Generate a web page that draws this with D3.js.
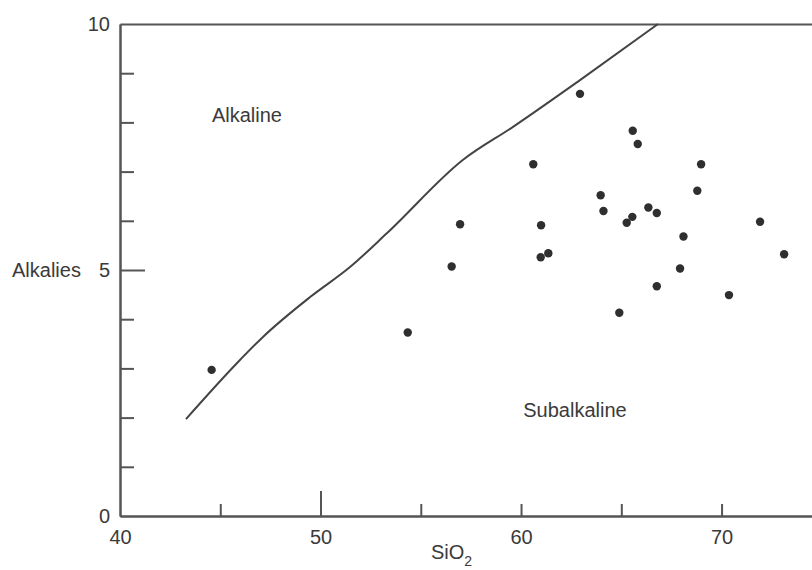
<!DOCTYPE html>
<html>
<head>
<meta charset="utf-8">
<script src="https://cdn.jsdelivr.net/npm/d3@7/dist/d3.min.js"></script>
<style>
  html, body { margin: 0; padding: 0; background: #fff; }
  svg { display: block; }
  text { font-family: "Liberation Sans", Arial, sans-serif; fill: #3a3a3a; }
</style>
</head>
<body>
<svg id="chart" width="812" height="570"></svg>
<script>
// ---- data ----
const sio2 = [44.57, 54.35, 56.54, 56.96, 60.61, 61.0, 60.98, 61.36, 62.94, 63.97, 64.11, 64.90, 65.27,
              65.55, 65.57, 65.82, 66.35, 66.77, 66.77, 67.93, 68.10, 68.79, 68.98, 70.37, 71.92, 73.12];
const alkalies = [2.97, 3.73, 5.07, 5.93, 7.15, 5.91, 5.26, 5.34, 8.58, 6.52, 6.20, 4.13, 5.96,
                  6.08, 7.83, 7.56, 6.27, 6.16, 4.67, 5.03, 5.68, 6.61, 7.15, 4.49, 5.98, 5.32];
const boundarySiO2 = [43.29, 45.84, 47.13, 49.48, 51.47, 53.32, 57.11, 59.60, 62.94, 66.83];
const boundaryAlk  = [1.97, 3.11, 3.64, 4.45, 5.06, 5.75, 7.24, 7.91, 8.86, 10.0];
const xTickLabels = [40, 50, 60, 70];
const xMinorTicks = [45, 55, 60, 65, 70];
const xMajorTicks = [50];
const yTickLabels = [0, 5, 10];
const yMinorTicks = [1, 2, 3, 4, 6, 7, 8, 9];
const yMajorTicks = [5];
const regionLabels = [
  {text: "Alkaline", x: 46.33, y: 8.0},
  {text: "Subalkaline", x: 62.69, y: 2.01}
];

// ---- scales ----
const svg = d3.select("#chart");
const x = d3.scaleLinear().domain([40, 74.51]).range([120, 812]);
const y = d3.scaleLinear().domain([0, 10]).range([516, 24]);
const axisColor = "#555";

function styleAxis(g) {
  g.selectAll("path.domain").attr("stroke", axisColor).attr("stroke-width", 2);
  g.selectAll(".tick line").attr("stroke", axisColor).attr("stroke-width", 2);
  g.selectAll(".tick text").attr("fill", "#3a3a3a").style("font-size", "20px")
    .style("font-family", "'Liberation Sans', Arial, sans-serif");
}

// y axis: minor ticks
svg.append("g").attr("transform", `translate(${x(40)},0)`)
  .call(d3.axisLeft(y).tickValues(yMinorTicks).tickSize(-14).tickSizeOuter(0).tickFormat(""))
  .call(styleAxis);
// y axis: major ticks
svg.append("g").attr("transform", `translate(${x(40)},0)`)
  .call(d3.axisLeft(y).tickValues(yMajorTicks).tickSize(-25).tickSizeOuter(0).tickFormat(""))
  .call(styleAxis);
// y axis labels
svg.append("g").attr("transform", `translate(${x(40)},0)`)
  .call(d3.axisLeft(y).tickValues(yTickLabels).tickSize(0).tickPadding(10).tickSizeOuter(0))
  .call(styleAxis)
  .call(g => g.select("path.domain").remove());

// x axis: minor ticks
svg.append("g").attr("transform", `translate(0,${y(0)})`)
  .call(d3.axisBottom(x).tickValues(xMinorTicks).tickSize(-12).tickSizeOuter(0).tickFormat(""))
  .call(styleAxis);
svg.append("g").attr("transform", `translate(0,${y(0)})`)
  .call(d3.axisBottom(x).tickValues(xMajorTicks).tickSize(-25).tickSizeOuter(0).tickFormat(""))
  .call(styleAxis);
svg.append("g").attr("transform", `translate(0,${y(0)})`)
  .call(d3.axisBottom(x).tickValues(xTickLabels).tickSize(0).tickPadding(14).tickSizeOuter(0))
  .call(styleAxis)
  .call(g => g.select("path.domain").remove());

// top frame line
svg.append("g").attr("transform", `translate(0,${y(10)})`)
  .call(d3.axisTop(x).tickValues([]).tickSizeOuter(0))
  .call(styleAxis);

// axis titles
svg.append("text").attr("x", 12).attr("y", y(5) + 7)
  .style("font-size", "20px").text("Alkalies");
const xt = svg.append("text").attr("x", 431).attr("y", 559).style("font-size", "20px");
xt.append("tspan").text("SiO");
xt.append("tspan").attr("dy", 7).style("font-size", "14px").text("2");

// boundary curve
const pts = boundarySiO2.map((v, i) => [v, boundaryAlk[i]]);
svg.append("path")
  .attr("d", d3.line().x(d => x(d[0])).y(d => y(d[1])).curve(d3.curveMonotoneX)(pts))
  .attr("fill", "none").attr("stroke", "#444").attr("stroke-width", 2);

// region labels
svg.selectAll("text.region").data(regionLabels).join("text")
  .attr("class", "region")
  .attr("x", d => x(d.x)).attr("y", d => y(d.y))
  .attr("text-anchor", "middle")
  .style("font-size", "20px")
  .text(d => d.text);

// points
svg.selectAll("circle.pt").data(sio2.map((v, i) => [v, alkalies[i]])).join("circle")
  .attr("class", "pt")
  .attr("cx", d => x(d[0])).attr("cy", d => y(d[1]))
  .attr("r", 4.2).attr("fill", "#2f2f2f");
</script>
</body>
</html>
